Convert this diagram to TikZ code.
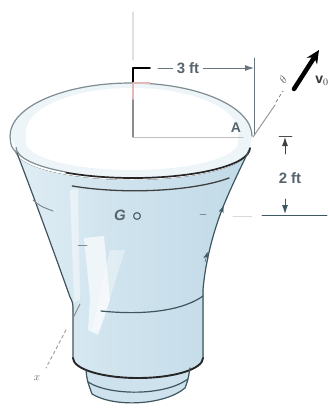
\documentclass[tikz,border=0pt]{standalone}
\usepackage{fontspec}
\setmainfont{Liberation Sans}
\usetikzlibrary{arrows.meta}
\definecolor{edge}{HTML}{3E5660}
\definecolor{rimgray}{HTML}{7F8C92}
\definecolor{glass}{HTML}{CDE2ED}
\definecolor{glassdeep}{HTML}{C2DAE7}
\definecolor{glasslight}{HTML}{E0EDF4}
\definecolor{mouth}{HTML}{EDF5F9}
\definecolor{dimgray}{HTML}{6A767C}
\definecolor{labelgray}{HTML}{56646C}
\definecolor{pinkline}{HTML}{E2B8B8}
\begin{document}
\begin{tikzpicture}[x=1pt,y=-1pt,line cap=round,line join=round,
  outline/.style={draw=edge,line width=1.2pt},
  dimline/.style={draw=dimgray,line width=0.9pt},
  dimtip/.style={-{Latex[length=9pt,width=6pt]}},
  lbl/.style={text=labelgray,font=\fontsize{15}{15}\selectfont\bfseries,inner sep=0pt}]
\useasboundingbox (0,0) rectangle (331,408);

% ---- body of the vessel ----
\fill[left color=glasslight,right color=glassdeep,middle color=glass]
  (17,153) .. controls (35,200) and (55,255) .. (70,297)
  .. controls (73,303) .. (73,312) -- (73,358)
  arc[start angle=180,end angle=0,x radius=65,y radius=20]
  -- (203,290) .. controls (205,265) and (212,235) .. (223,207)
  .. controls (232,185) and (242,165) .. (249,150)
  arc[start angle=0,end angle=180,x radius=117,y radius=30] -- cycle;

% foot
\fill[glass] (86,370) .. controls (87,380) .. (92,394)
  .. controls (115,408) and (165,405) .. (185,388)
  .. controls (188,380) .. (190,368)
  .. controls (170,378) and (105,380) .. cycle;

% light streaks on the body
\fill[white,opacity=0.65] (84,238) -- (104,236) -- (110,300) -- (98,335) -- (88,330) -- (90,298) -- cycle;
\fill[white,opacity=0.45] (70,190) -- (78,188) -- (80,300) -- (74,302) -- cycle;
\fill[white,opacity=0.35] (110,250) -- (125,250) -- (100,330) -- (92,330) -- cycle;

% open top
\fill[mouth]
  (10,136) arc[start angle=180,end angle=360,x radius=121,y radius=53]
  -- (250,148) arc[start angle=0,end angle=180,x radius=117,y radius=30] -- cycle;
\fill[white]
  (26,132) arc[start angle=180,end angle=360,x radius=106,y radius=44]
  -- (238,142) arc[start angle=0,end angle=180,x radius=106,y radius=28] -- cycle;

% ---- outlines ----
\draw[draw=rimgray,line width=1.2pt] (17,153) .. controls (11,147) .. (10,136)
  arc[start angle=180,end angle=360,x radius=121,y radius=53];
\draw[draw=black!85,line width=1.7pt] (250,148)
  arc[start angle=0,end angle=125,x radius=117,y radius=30];
\draw[draw=rimgray,line width=1.2pt] (66,172)
  arc[start angle=125,end angle=180,x radius=117,y radius=30];
\draw[draw=black!75,line width=1.3pt] (229,178)
  arc[start angle=35,end angle=123,x radius=115,y radius=30];

\draw[outline] (17,153) .. controls (35,200) and (55,255) .. (70,297)
  .. controls (73,303) .. (73,312) -- (73,358);
\draw[outline] (249,150) .. controls (242,165) and (232,185) .. (223,207)
  .. controls (212,235) and (205,265) .. (203,290) -- (203,358);
\draw[outline] (101,311) .. controls (150,316) and (185,309) .. (203,296);
\draw[draw=black!85,line width=1.9pt] (73,358)
  arc[start angle=180,end angle=0,x radius=65,y radius=20];
\draw[outline] (86,370) .. controls (87,380) .. (92,394)
  .. controls (115,408) and (165,405) .. (185,388)
  .. controls (188,380) .. (190,368);
\draw[outline] (88,382) .. controls (110,396) and (165,396) .. (188,379);

% small hooks along the sides
\draw[draw=rimgray,line width=1pt] (33,200) .. controls (40,206) .. (53,211);
\draw[draw=edge,-{Stealth[length=7pt,width=5pt]}] (205,262) -- (207.5,252);
\draw[draw=edge,-{Stealth[length=7pt,width=5pt]}] (219,218) -- (223.5,206);
\draw[draw=rimgray,line width=0.8pt] (78,245) -- (87,245);
\draw[draw=rimgray,line width=0.8pt] (200,214) -- (206,214);

% ---- axis and 3 ft dimension ----
\coordinate (axTop) at (133,12);
\coordinate (axMid) at (133,60);
\coordinate (brk) at (133,68);
\coordinate (brkEnd) at (150,68);
\coordinate (axLow) at (133,137);
\coordinate (tickTop) at (254,58);
\coordinate (tickBot) at (254,135);
\coordinate (tickMid) at (254,68);
\coordinate (A) at (253,137);
\draw[draw=black!12,line width=1.4pt] (axTop) -- (axMid);
\draw[draw=black,line width=1.7pt] (brkEnd) -- (brk) -- (133,83);
\draw[draw=pinkline,line width=1.4pt] (133,83) -- (133,100);
\draw[draw=pinkline,line width=1.2pt] (133,83) -- (150,83);
\draw[draw=black!45,line width=1.2pt] (133,100) -- (axLow);
\draw[draw=black!25,line width=1pt] (axLow) -- (243,137);
\draw[dimline] (tickTop) -- (tickBot);
\node[lbl] (d3) at (188,68) {3 ft};
\draw[dimline] (d3.west) ++(-4,0) -- (158,68);
\draw[dimline,dimtip] (d3.east) ++(4,0) -- (tickMid);
\node[lbl,font=\fontsize{14}{14}\selectfont\bfseries] (lA) at (236,128) {A};

% ---- velocity at A ----
\coordinate (vTail) at (294,89);
\coordinate (vHead) at (319,50);
\draw[draw=black!40,line width=1pt] (A) -- (275,105);
\draw[draw=black!50,line width=0.8pt,dashed] (276,102) -- (283,91);
\node[text=black!65,font=\fontsize{13}{13}\selectfont,rotate=55] (th) at (283,80) {$\theta$};
\draw[line width=4.5pt,-{Stealth[length=13pt,width=12pt]}] (vTail) -- (vHead);
\node[text=black!80,font=\fontsize{14}{14}\selectfont,inner sep=0pt] (v0) at (322,81) {$\mathbf{v}_0$};

% ---- 2 ft dimension ----
\coordinate (barL) at (279,136);
\coordinate (barR) at (292,136);
\coordinate (up1) at (285,154);
\coordinate (up2) at (285,137);
\coordinate (lo1) at (285,199);
\coordinate (lo2) at (285,214);
\coordinate (lineL) at (262,215);
\coordinate (lineR) at (327,215);
\draw[dimline,draw=black!70] (barL) -- (barR);
\draw[dimline,draw=black!75,dimtip] (up1) -- (up2);
\draw[dimline,draw=edge,dimtip] (lo1) -- (lo2);
\draw[dimline,draw=edge] (lineL) -- (lineR);
\draw[draw=black!15,line width=1pt] (233,216) -- (252,216);
\node[lbl] (d2) at (290,178) {2 ft};

% ---- mass centre ----
\node[lbl,font=\fontsize{15}{15}\selectfont\itshape\bfseries] (G) at (120,215) {G};
\draw[draw=labelgray,line width=1.2pt] (137,216) circle[radius=3.4];

% ---- x axis mark ----
\coordinate (xa) at (80,304);
\coordinate (xb) at (46,368);
\draw[draw=black!45,line width=0.9pt] (xa) -- (73,318);
\draw[draw=black!40,line width=0.9pt,dashed] (66,330) -- (xb);
\node[text=black!60,font=\fontsize{11}{11}\selectfont,inner sep=0pt] (xl) at (37,378) {$x$};
\end{tikzpicture}
\end{document}
